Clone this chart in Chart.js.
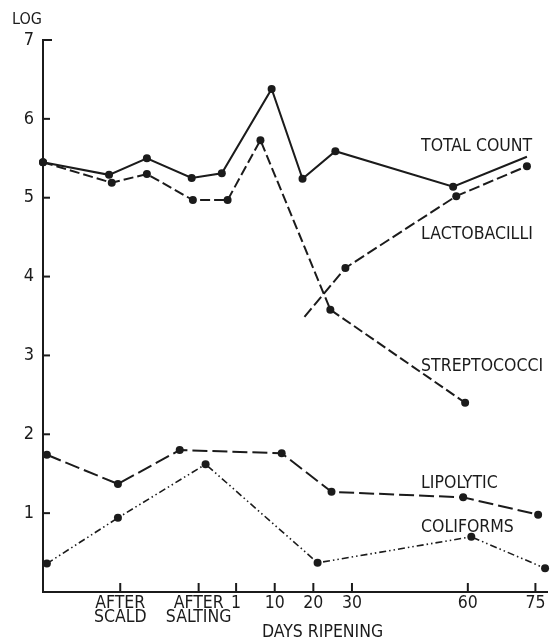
<!DOCTYPE html>
<html>
<head>
<meta charset="utf-8">
<script src="https://cdn.jsdelivr.net/npm/chart.js@4/dist/chart.umd.min.js"></script>
<style>
  html, body { margin: 0; padding: 0; background: #ffffff; }
  #wrap { width: 551px; height: 641px; position: relative; }
</style>
</head>
<body>
<div id="wrap"><canvas id="c"></canvas></div>
<script>
// Stage positions on the time axis (evenly spaced stages, ripening days compressed)
const xTickPos = [2, 4.03, 5, 6, 7, 8, 11, 12.75];
const xTickLabels = [["AFTER", "SCALD"], ["AFTER", "SALTING"], "1", "10", "20", "30", "60", "75"];
const yTickValues = [1, 2, 3, 4, 5, 6, 7];

// Log counts per group
const totalCountX = [0, 1.71, 2.69, 3.85, 4.63, 5.92, 6.72, 7.57, 10.62, 12.53];
const totalCountY = [5.45, 5.29, 5.50, 5.25, 5.31, 6.38, 5.24, 5.59, 5.14, 5.52];

const streptococciX = [0, 1.78, 2.69, 3.88, 4.78, 5.63, 7.44, 10.93];
const streptococciY = [5.45, 5.19, 5.30, 4.97, 4.97, 5.73, 3.58, 2.40];

const lactobacilliX = [6.77, 7.83, 10.70, 12.53];
const lactobacilliY = [3.49, 4.11, 5.02, 5.40];

const lipolyticX = [0.1, 1.94, 3.54, 6.18, 7.47, 10.88, 12.82];
const lipolyticY = [1.74, 1.37, 1.80, 1.76, 1.27, 1.20, 0.98];

const coliformsX = [0.1, 1.94, 4.21, 7.11, 11.09, 13.0];
const coliformsY = [0.36, 0.94, 1.62, 0.37, 0.70, 0.30];

const seriesNames = ["TOTAL COUNT", "LACTOBACILLI", "STREPTOCOCCI", "LIPOLYTIC", "COLIFORMS"];
const yAxisTitle = "LOG";
const xAxisTitle = "DAYS RIPENING";

const INK = "#1b1b1b";
const pts = (xs, ys) => xs.map((x, i) => ({ x: x, y: ys[i] }));

function lineSet(data, dash, width, radii) {
  return {
    data: data,
    showLine: true,
    borderColor: INK,
    borderWidth: width,
    borderDash: dash,
    backgroundColor: INK,
    pointBackgroundColor: INK,
    pointBorderColor: INK,
    pointBorderWidth: 0,
    pointRadius: radii || 4,
    tension: 0,
    clip: false
  };
}

// inner tick marks, series captions and axis titles
const decorations = {
  id: "decorations",
  afterDraw(chart) {
    const ctx = chart.ctx;
    const xs = chart.scales.x, ys = chart.scales.y;
    const area = chart.chartArea;
    ctx.save();
    ctx.strokeStyle = INK;
    ctx.lineWidth = 2;
    ctx.setLineDash([]);
    ys.ticks.forEach(t => {
      if (t.value <= 0) return;
      const y = ys.getPixelForValue(t.value);
      ctx.beginPath();
      ctx.moveTo(area.left, y);
      ctx.lineTo(area.left + (t.value === 7 ? 9 : 7), y);
      ctx.stroke();
    });
    xs.ticks.forEach(t => {
      const x = xs.getPixelForValue(t.value);
      ctx.beginPath();
      ctx.moveTo(x, area.bottom);
      ctx.lineTo(x, area.bottom - 9);
      ctx.stroke();
    });

    ctx.fillStyle = INK;
    ctx.textBaseline = "alphabetic";
    ctx.textAlign = "left";
    ctx.font = "17.5px 'DejaVu Sans Condensed', 'DejaVu Sans', sans-serif";
    const captionX = xs.getPixelForValue(9.79);
    const captionY = [5.59, 4.48, 2.80, 1.32, 0.76];
    seriesNames.forEach((name, i) => {
      ctx.fillText(name, captionX, ys.getPixelForValue(captionY[i]));
    });

    ctx.font = "16px 'DejaVu Sans Condensed', 'DejaVu Sans', sans-serif";
    ctx.fillText(yAxisTitle, 12, 24);

    ctx.textAlign = "center";
    ctx.font = "17.5px 'DejaVu Sans Condensed', 'DejaVu Sans', sans-serif";
    ctx.fillText(xAxisTitle, xs.getPixelForValue(7.24), 637);
    ctx.restore();
  }
};

new Chart(document.getElementById("c"), {
  type: "scatter",
  data: {
    datasets: [
      lineSet(pts(totalCountX, totalCountY), [], 2, totalCountX.map((_, i) => i === totalCountX.length - 1 ? 0 : 4)),
      lineSet(pts(streptococciX, streptococciY), [10, 4], 2),
      lineSet(pts(lactobacilliX, lactobacilliY), [11, 4], 2, lactobacilliX.map((_, i) => i === 0 ? 0 : 4)),
      lineSet(pts(lipolyticX, lipolyticY), [15, 5], 2),
      lineSet(pts(coliformsX, coliformsY), [7, 3, 1.5, 3, 1.5, 3], 1.6)
    ]
  },
  options: {
    responsive: true,
    maintainAspectRatio: false,
    animation: false,
    layout: { padding: { top: 40, right: 3, left: 0, bottom: 0 } },
    plugins: { legend: { display: false }, tooltip: { enabled: false } },
    scales: {
      x: {
        type: "linear",
        min: 0,
        max: 13.05,
        grid: { display: false, drawTicks: false },
        border: { display: true, color: INK, width: 2 },
        afterBuildTicks(scale) { scale.ticks = xTickPos.map(v => ({ value: v })); },
        afterFit(scale) { scale.height = 49; },
        ticks: {
          autoSkip: false,
          maxRotation: 0,
          padding: 4,
          color: INK,
          font: { family: "'DejaVu Sans Condensed', 'DejaVu Sans', sans-serif", size: 17.5, lineHeight: 0.8 },
          callback: (value, index) => xTickLabels[index]
        }
      },
      y: {
        type: "linear",
        min: 0,
        max: 7,
        grid: { display: false, drawTicks: false },
        border: { display: true, color: INK, width: 2 },
        afterBuildTicks(scale) { scale.ticks = yTickValues.map(v => ({ value: v })); },
        afterFit(scale) { scale.width = 43; },
        ticks: {
          padding: 9,
          color: INK,
          font: { family: "'DejaVu Sans Condensed', 'DejaVu Sans', sans-serif", size: 18 },
          callback: v => String(v)
        }
      }
    }
  },
  plugins: [decorations]
});
</script>
</body>
</html>
